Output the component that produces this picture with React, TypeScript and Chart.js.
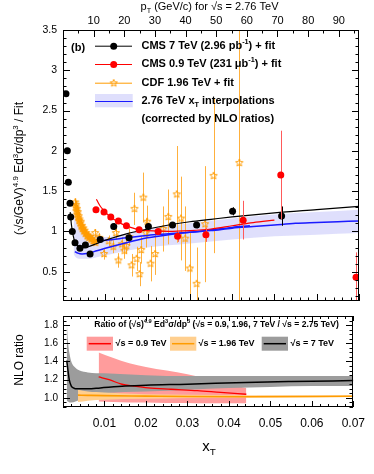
import React, { useEffect, useRef } from 'react';
import { Chart, registerables } from 'chart.js';
Chart.register(...registerables);

const FONT = "'Liberation Sans', Arial, Helvetica, sans-serif";

// ---------- upper panel data (xT, ratio to fit) ----------
const cms7X = [0.0007, 0.00102, 0.00126, 0.00166, 0.00182, 0.0022, 0.00284, 0.0040, 0.0053, 0.0064, 0.0088, 0.0120, 0.0156, 0.0202, 0.0259, 0.0316, 0.0401, 0.0517];
const cms7Y = [2.71, 2.00, 1.61, 1.35, 1.18, 1.00, 0.86, 0.79, 0.83, 0.72, 0.90, 1.06, 0.92, 1.06, 1.08, 1.08, 1.25, 1.19];
const cms7Err = [0.02, 0.02, 0.02, 0.02, 0.02, 0.02, 0.02, 0.02, 0.02, 0.02, 0.02, 0.04, 0.03, 0.04, 0.03, 0.04, 0.05, 0.12];

const cms09X = [0.0078, 0.0097, 0.0113, 0.0131, 0.0150, 0.0180, 0.0225, 0.0271, 0.0338, 0.0426, 0.0515, 0.0693];
const cms09Y = [1.27, 1.24, 1.18, 1.13, 1.07, 1.02, 1.00, 0.94, 0.96, 1.14, 1.70, 0.43];
const cms09Err = [0.02, 0.02, 0.02, 0.02, 0.03, 0.03, 0.04, 0.07, 0.09, 0.24, 0.55, 0.31];

const cdfDenseX = [0.0029, 0.0030, 0.0031, 0.0032, 0.0033, 0.0034, 0.0035, 0.0036, 0.0037, 0.0038, 0.0039, 0.0041, 0.0042, 0.0043, 0.0045, 0.0046, 0.0048, 0.0049, 0.0051, 0.0053, 0.0055, 0.0057, 0.0059, 0.0061, 0.0063, 0.0066, 0.0068, 0.0071, 0.0074, 0.0077];
const cdfDenseY = [1.36, 1.30, 1.33, 1.25, 1.28, 1.21, 1.24, 1.17, 1.19, 1.13, 1.15, 1.10, 1.12, 1.06, 1.07, 1.03, 1.04, 1.00, 1.01, 0.97, 0.98, 0.94, 0.95, 0.92, 0.93, 0.90, 0.91, 0.88, 0.88, 0.86];
const cdfDenseErr = [0.05, 0.06, 0.05, 0.06, 0.05, 0.05, 0.05, 0.05, 0.05, 0.05, 0.04, 0.04, 0.04, 0.04, 0.04, 0.04, 0.04, 0.03, 0.03, 0.03, 0.03, 0.03, 0.03, 0.03, 0.03, 0.03, 0.03, 0.03, 0.03, 0.03];

const cdfX = [0.0076, 0.0086, 0.0097, 0.0108, 0.0119, 0.0125, 0.0131, 0.0139, 0.0145, 0.0150, 0.0157, 0.0162, 0.0169, 0.0174, 0.0181, 0.0185, 0.0190, 0.0196, 0.0199, 0.0207, 0.0218, 0.0237, 0.0249, 0.0269, 0.0279, 0.0289, 0.0300, 0.0316, 0.0336, 0.0356, 0.0417];
const cdfY = [0.98, 0.92, 0.72, 0.88, 0.81, 0.98, 0.64, 0.84, 0.76, 0.82, 0.93, 0.58, 1.28, 0.66, 0.47, 0.77, 1.42, 0.98, 1.12, 0.60, 0.72, 1.03, 1.18, 1.46, 1.16, 0.91, 0.54, 0.35, 1.09, 1.69, 1.85];
const cdfErr = [0.05, 0.06, 0.07, 0.07, 0.08, 0.08, 0.09, 0.09, 0.10, 0.10, 0.11, 0.14, 0.20, 0.15, 0.15, 0.17, 0.31, 0.18, 0.20, 0.22, 0.26, 0.28, 0.34, 0.60, 0.52, 0.40, 0.45, 0.45, 0.72, 0.96, 1.90];

const cdfFitX = [0.0029, 0.0034, 0.0039, 0.0045, 0.0052, 0.0060, 0.0069, 0.0078];
const cdfFitY = [1.34, 1.22, 1.12, 1.04, 0.97, 0.92, 0.89, 0.87];

const cms7FitX = [0.0017, 0.0020, 0.0024, 0.0028, 0.0035, 0.0042, 0.0050, 0.0060, 0.0080, 0.0100, 0.0150, 0.0200, 0.0250, 0.0300, 0.0350, 0.0400, 0.0500, 0.0600, 0.0700];
const cms7FitY = [1.24, 1.08, 0.95, 0.87, 0.82, 0.80, 0.80, 0.81, 0.85, 0.89, 0.97, 1.03, 1.08, 1.12, 1.15, 1.18, 1.23, 1.27, 1.31];

const cms09FitX = [0.0079, 0.0085, 0.0090, 0.0100, 0.0110, 0.0120, 0.0140, 0.0160, 0.0180, 0.0200, 0.0250, 0.0300, 0.0350, 0.0400, 0.0450, 0.0500];
const cms09FitY = [1.40, 1.34, 1.30, 1.24, 1.19, 1.15, 1.09, 1.05, 1.02, 1.01, 1.00, 1.01, 1.03, 1.07, 1.11, 1.14];

const interpAX = [0.0028, 0.0035, 0.0045, 0.0060, 0.0080, 0.0100, 0.0150, 0.0200, 0.0250, 0.0300, 0.0350, 0.0400, 0.0450, 0.0500, 0.0550, 0.0600, 0.0650, 0.0700];
const interpAY = [0.75, 0.73, 0.72, 0.73, 0.76, 0.79, 0.86, 0.92, 0.96, 0.99, 1.01, 1.04, 1.06, 1.08, 1.10, 1.11, 1.12, 1.13];
const interpBX = [0.0086, 0.0100, 0.0150, 0.0200, 0.0250, 0.0300, 0.0350, 0.0400, 0.0442];
const interpBY = [0.88, 0.89, 0.92, 0.95, 0.97, 0.99, 1.02, 1.05, 1.07];

const bandX = [0.0025, 0.0030, 0.0040, 0.0060, 0.0080, 0.0100, 0.0150, 0.0200, 0.0300, 0.0400, 0.0500, 0.0600, 0.0700];
const bandHi = [1.25, 1.15, 1.04, 0.98, 0.94, 0.93, 0.97, 1.03, 1.10, 1.16, 1.21, 1.24, 1.27];
const bandLo = [0.72, 0.68, 0.66, 0.66, 0.68, 0.70, 0.76, 0.80, 0.85, 0.90, 0.94, 0.96, 0.98];

// ---------- lower panel data (NLO ratios) ----------
const r7X = [0.0009, 0.0012, 0.0016, 0.0020, 0.0030, 0.0040, 0.0060, 0.0100, 0.0200, 0.0300, 0.0400, 0.0500, 0.0600, 0.0700];
const r7Hi = [1.85, 1.62, 1.48, 1.40, 1.33, 1.30, 1.28, 1.27, 1.25, 1.24, 1.24, 1.24, 1.24, 1.24];
const r7Lo = [0.97, 0.96, 0.95, 0.95, 0.96, 0.98, 1.02, 1.05, 1.07, 1.09, 1.11, 1.12, 1.13, 1.13];
const r7LineX = [0.0009, 0.0012, 0.0015, 0.0020, 0.0025, 0.0030, 0.0036, 0.0060, 0.0090, 0.0150, 0.0200, 0.0300, 0.0440, 0.0550, 0.0700];
const r7LineY = [1.41, 1.30, 1.20, 1.13, 1.11, 1.10, 1.10, 1.10, 1.11, 1.13, 1.14, 1.15, 1.17, 1.18, 1.19];

const r09X = [0.0086, 0.0120, 0.0160, 0.0200, 0.0250, 0.0300, 0.0350, 0.0400, 0.0442];
const r09Hi = [1.50, 1.44, 1.38, 1.34, 1.30, 1.26, 1.21, 1.15, 1.11];
const r09Lo = [0.96, 0.955, 0.95, 0.95, 0.945, 0.945, 0.94, 0.94, 0.94];
const r09LineX = [0.0086, 0.0111, 0.0142, 0.0170, 0.0205, 0.0260, 0.0324, 0.0380, 0.0442];
const r09LineY = [1.23, 1.20, 1.15, 1.13, 1.11, 1.095, 1.08, 1.06, 1.04];

const r196X = [0.0036, 0.0060, 0.0100, 0.0200, 0.0300, 0.0450, 0.0700];
const r196Hi = [1.09, 1.07, 1.06, 1.04, 1.035, 1.03, 1.03];
const r196Lo = [0.955, 0.97, 0.98, 0.99, 1.00, 1.005, 1.01];
const r196LineY = [1.03, 1.028, 1.025, 1.02, 1.015, 1.013, 1.018];

// tick label values
const xTicks = [0.01, 0.02, 0.03, 0.04, 0.05, 0.06, 0.07];
const ptTicks = [10, 20, 30, 40, 50, 60, 70, 80, 90];
const yTopTicks = [0.5, 1, 1.5, 2, 2.5, 3, 3.5];
const yBotTicks = [1.0, 1.2, 1.4, 1.6, 1.8];

const pts = (xs: number[], ys: number[]) => xs.map((x, i) => ({ x, y: ys[i] }));

type Seg = { t: string; v?: 'sup' | 'sub' };

function segFont(size: number, bold: boolean, s: Seg) {
  const sz = s.v ? size * 0.66 : size;
  return `${bold ? 'bold ' : ''}${sz}px ${FONT}`;
}
function richWidth(ctx: CanvasRenderingContext2D, segs: Seg[], size: number, bold: boolean) {
  let w = 0;
  for (const s of segs) { ctx.font = segFont(size, bold, s); w += ctx.measureText(s.t).width; }
  return w;
}
function drawRich(ctx: CanvasRenderingContext2D, segs: Seg[], x: number, y: number, size: number, bold: boolean, align: 'left' | 'center') {
  ctx.save();
  const w = richWidth(ctx, segs, size, bold);
  let cx = align === 'center' ? x - w / 2 : x;
  ctx.textBaseline = 'middle';
  ctx.textAlign = 'left';
  ctx.fillStyle = '#000';
  for (const s of segs) {
    ctx.font = segFont(size, bold, s);
    const dy = s.v === 'sup' ? -size * 0.38 : s.v === 'sub' ? size * 0.32 : 0;
    ctx.fillText(s.t, cx, y + dy);
    cx += ctx.measureText(s.t).width;
  }
  ctx.restore();
}

function makeStar(color: string, r: number) {
  const size = Math.ceil(r * 2 + 2);
  const c = document.createElement('canvas');
  c.width = size; c.height = size;
  const g = c.getContext('2d')!;
  g.strokeStyle = color; g.lineWidth = 1;
  g.beginPath();
  for (let i = 0; i < 10; i++) {
    const ang = -Math.PI / 2 + (i * Math.PI) / 5;
    const rr = i % 2 === 0 ? r : r * 0.45;
    const px = size / 2 + rr * Math.cos(ang);
    const py = size / 2 + rr * Math.sin(ang);
    if (i === 0) g.moveTo(px, py); else g.lineTo(px, py);
  }
  g.closePath(); g.stroke();
  return c;
}

type ErrSpec = { errs: number[]; color: string };
function makeErrorBars(specs: Record<number, ErrSpec>) {
  return {
    id: 'errorBars',
    beforeDatasetDraw(chart: any, args: any) {
      const spec = specs[args.index];
      if (!spec) return;
      const ds = chart.data.datasets[args.index];
      const xScale = chart.scales.x, yScale = chart.scales.y;
      const ctx: CanvasRenderingContext2D = chart.ctx; const a = chart.chartArea;
      ctx.save();
      ctx.beginPath(); ctx.rect(a.left, a.top, a.right - a.left, a.bottom - a.top); ctx.clip();
      ctx.globalAlpha = 1;
      ctx.setLineDash([]);
      ctx.lineWidth = 1;
      ctx.strokeStyle = spec.color;
      ds.data.forEach((p: any, i: number) => {
        const e = spec.errs[i];
        const px = Math.round(xScale.getPixelForValue(p.x)) + 0.5;
        ctx.beginPath();
        ctx.moveTo(px, yScale.getPixelForValue(p.y - e));
        ctx.lineTo(px, yScale.getPixelForValue(p.y + e));
        ctx.strokeStyle = spec.color;
        ctx.stroke();
      });
      ctx.restore();
    },
  };
}

type TickSpec = { scale: string; edge: 'top' | 'bottom' | 'left' | 'right'; major: number; minor: number; lmaj: number; lmin: number };
function makeFrame(specs: TickSpec[]) {
  return {
    id: 'frame',
    afterDatasetsDraw(chart: any) {
      const ctx = chart.ctx; const a = chart.chartArea;
      const L = Math.round(a.left), R = Math.round(a.right), T = Math.round(a.top), B = Math.round(a.bottom);
      ctx.save();
      ctx.strokeStyle = '#000'; ctx.lineWidth = 1;
      ctx.strokeRect(L + 0.5, T + 0.5, R - L - 1, B - T - 1);
      for (const s of specs) {
        const sc = chart.scales[s.scale];
        const lo = Math.min(sc.min, sc.max), hi = Math.max(sc.min, sc.max);
        const start = Math.ceil(lo / s.minor - 1e-6);
        for (let k = start; k * s.minor <= hi + 1e-9; k++) {
          const v = k * s.minor;
          const isMaj = Math.abs(v / s.major - Math.round(v / s.major)) < 1e-6;
          const len = isMaj ? s.lmaj : s.lmin;
          const p = Math.round(sc.getPixelForValue(v)) + 0.5;
          ctx.beginPath();
          if (s.edge === 'bottom') { ctx.moveTo(p, B); ctx.lineTo(p, B - len); }
          if (s.edge === 'top') { ctx.moveTo(p, T); ctx.lineTo(p, T + len); }
          if (s.edge === 'left') { ctx.moveTo(L, p); ctx.lineTo(L + len, p); }
          if (s.edge === 'right') { ctx.moveTo(R, p); ctx.lineTo(R - len, p); }
          ctx.stroke();
        }
      }
      ctx.restore();
    },
  };
}

const ORANGE = '#ff9c00';
const BLUE = '#1a1aff';
const BANDBLUE = 'rgba(150,150,245,0.3)';
const NOGRID = { display: false, drawTicks: false, tickLength: 0 };

export default function App() {
  const topRef = useRef<HTMLCanvasElement>(null);
  const botRef = useRef<HTMLCanvasElement>(null);

  useEffect(() => {
    const star = makeStar(ORANGE, 3.8);
    const line = (data: any, color: string, w: number, order: number, extra: any = {}) => ({
      data, borderColor: color, borderWidth: w, pointRadius: 0, fill: false, order,
      cubicInterpolationMode: 'monotone', ...extra,
    });
    const band = (data: any, order: number, fill: any = false, bg = 'transparent') => ({
      data, borderWidth: 0, borderColor: 'transparent', pointRadius: 0, fill, backgroundColor: bg, order,
      cubicInterpolationMode: 'monotone',
    });

    const decorTop = {
      id: 'decorTop',
      afterDraw(chart: any) {
        const ctx: CanvasRenderingContext2D = chart.ctx;
        drawRich(ctx, [{ t: 'p' }, { t: 'T', v: 'sub' }, { t: ' (GeV/c) for √s = 2.76 TeV' }], 209.5, 7, 11, false, 'center');
        ctx.save(); ctx.translate(20, 168.5); ctx.rotate(-Math.PI / 2);
        drawRich(ctx, [{ t: '(√s/GeV)' }, { t: '4.9', v: 'sup' }, { t: ' Ed' }, { t: '3', v: 'sup' }, { t: 'σ/dp' }, { t: '3', v: 'sup' }, { t: ' / Fit' }], 0, 0, 12, false, 'center');
        ctx.restore();
        drawRich(ctx, [{ t: '(b)' }], 71, 48, 11, true, 'left');
        const rows = [45.7, 64, 82.7, 101, 119.3];
        const tx = 141.5;
        ctx.save();
        ctx.strokeStyle = '#000'; ctx.lineWidth = 1;
        ctx.beginPath(); ctx.moveTo(95, rows[0] + 0.5); ctx.lineTo(132, rows[0] + 0.5); ctx.stroke();
        ctx.fillStyle = '#000'; ctx.beginPath(); ctx.arc(113.7, rows[0] + 0.5, 3.5, 0, Math.PI * 2); ctx.fill();
        ctx.strokeStyle = '#ff0000';
        ctx.beginPath(); ctx.moveTo(95, rows[1] + 0.5); ctx.lineTo(132, rows[1] + 0.5); ctx.stroke();
        ctx.fillStyle = '#ff0000'; ctx.beginPath(); ctx.arc(113.7, rows[1] + 0.5, 3.5, 0, Math.PI * 2); ctx.fill();
        ctx.strokeStyle = ORANGE;
        ctx.beginPath(); ctx.moveTo(95, rows[2] + 0.5); ctx.lineTo(132, rows[2] + 0.5); ctx.stroke();
        ctx.drawImage(star, 113.7 - star.width / 2, rows[2] + 0.5 - star.height / 2);
        ctx.fillStyle = BANDBLUE; ctx.fillRect(95, 94, 37.7, 13.3);
        ctx.strokeStyle = BLUE;
        ctx.beginPath(); ctx.moveTo(95, rows[3] + 0.5); ctx.lineTo(132.7, rows[3] + 0.5); ctx.stroke();
        ctx.restore();
        drawRich(ctx, [{ t: 'CMS 7 TeV (2.96 pb' }, { t: '-1', v: 'sup' }, { t: ') + fit' }], tx, rows[0], 11, true, 'left');
        drawRich(ctx, [{ t: 'CMS 0.9 TeV (231 μb' }, { t: '-1', v: 'sup' }, { t: ') + fit' }], tx, rows[1], 11, true, 'left');
        drawRich(ctx, [{ t: 'CDF 1.96 TeV + fit' }], tx, rows[2], 11, true, 'left');
        drawRich(ctx, [{ t: '2.76 TeV x' }, { t: 'T', v: 'sub' }, { t: ' interpolations' }], tx, rows[3], 11, true, 'left');
        drawRich(ctx, [{ t: '(corrected by NLO ratios)' }], tx, rows[4], 11, true, 'left');
      },
    };

    const decorBot = {
      id: 'decorBot',
      afterDraw(chart: any) {
        const ctx: CanvasRenderingContext2D = chart.ctx;
        drawRich(ctx, [{ t: 'Ratio of (√s)' }, { t: '4.9', v: 'sup' }, { t: ' Ed' }, { t: '3', v: 'sup' }, { t: 'σ/dp' }, { t: '3', v: 'sup' }, { t: ' (√s = 0.9, 1.96, 7 TeV / √s = 2.75 TeV)' }], 216.5, 20, 8.6, true, 'center');
        const by = 31.7, bh = 14, my = 38.7;
        const boxes = [
          { x: 86.7, fill: '#ff9c9c', line: '#ff0000', label: '√s = 0.9 TeV', tx: 115.5 },
          { x: 170, fill: '#ffcf8f', line: ORANGE, label: '√s = 1.96 TeV', tx: 198.5 },
          { x: 261.7, fill: '#9c9c9c', line: '#000', label: '√s = 7 TeV', tx: 290.5 },
        ];
        ctx.save();
        for (const b of boxes) {
          ctx.fillStyle = b.fill; ctx.fillRect(b.x, by, 26.3, bh);
          ctx.strokeStyle = b.line; ctx.lineWidth = 1.5;
          ctx.beginPath(); ctx.moveTo(b.x + 2, my); ctx.lineTo(b.x + 24.3, my); ctx.stroke();
        }
        ctx.restore();
        for (const b of boxes) drawRich(ctx, [{ t: b.label }], b.tx, my, 9, true, 'left');
        ctx.save(); ctx.translate(20, 55); ctx.rotate(-Math.PI / 2);
        drawRich(ctx, [{ t: 'NLO ratio' }], 0, 0, 12, false, 'center');
        ctx.restore();
        drawRich(ctx, [{ t: 'x' }, { t: 'T', v: 'sub' }], 209, 142, 15, false, 'center');
      },
    };

    const tickFont = (size: number) => ({ family: FONT, size });

    const top = new Chart(topRef.current!, {
      type: 'line',
      data: {
        datasets: [
          band(pts(bandX, bandLo), 20) as any,
          band(pts(bandX, bandHi), 20, '-1', BANDBLUE) as any,
          { data: pts(cdfDenseX, cdfDenseY), showLine: false, pointStyle: star, pointRadius: 3.8, borderColor: ORANGE, backgroundColor: ORANGE, order: 15 } as any,
          { data: pts(cdfX, cdfY), showLine: false, pointStyle: star, pointRadius: 3.8, borderColor: ORANGE, backgroundColor: ORANGE, order: 15 } as any,
          line(pts(cdfFitX, cdfFitY), ORANGE, 2.5, 14) as any,
          line(pts(interpAX, interpAY), BLUE, 1.5, 10) as any,
          line(pts(interpBX, interpBY), BLUE, 1.5, 10) as any,
          line(pts(cms7FitX, cms7FitY), '#000', 1.2, 9) as any,
          line(pts(cms09FitX, cms09FitY), '#ff0000', 1.2, 9) as any,
          { data: pts(cms7X, cms7Y), showLine: false, pointStyle: 'circle', pointRadius: 3.5, pointBorderWidth: 0, backgroundColor: '#000', borderColor: '#000', order: 2 } as any,
          { data: pts(cms09X, cms09Y), showLine: false, pointStyle: 'circle', pointRadius: 3.5, pointBorderWidth: 0, backgroundColor: '#ff0000', borderColor: '#ff0000', order: 1 } as any,
        ],
      },
      options: {
        responsive: false,
        animation: false,
        events: [],
        layout: { padding: { left: 0, right: 15, top: 0, bottom: 1 } },
        plugins: { legend: { display: false }, tooltip: { enabled: false } },
        scales: {
          x: { type: 'linear', min: 0, max: 0.07, display: false },
          xTop: {
            type: 'linear', position: 'top', min: 0, max: 96.6,
            grid: NOGRID, border: { display: false },
            afterBuildTicks: (s: any) => { s.ticks = ptTicks.map((v) => ({ value: v })); },
            afterFit: (s: any) => { s.height = 30; },
            ticks: { autoSkip: false, maxRotation: 0, padding: 2, color: '#000', font: tickFont(11), callback: (v: any) => String(v) },
          },
          y: {
            type: 'linear', min: 0.14, max: 3.5,
            grid: NOGRID, border: { display: false },
            afterBuildTicks: (s: any) => { s.ticks = yTopTicks.map((v) => ({ value: v })); },
            afterFit: (s: any) => { s.width = 63; },
            ticks: { autoSkip: false, padding: 6, color: '#000', font: tickFont(10.5), callback: (v: any) => String(v) },
          },
        },
      } as any,
      plugins: [makeErrorBars({
        2: { errs: cdfDenseErr, color: 'rgb(255,150,0)' },
        3: { errs: cdfErr, color: 'rgb(255,176,60)' },
        9: { errs: cms7Err, color: 'rgb(0,0,0)' },
        10: { errs: cms09Err, color: 'rgb(255,90,90)' },
      }), makeFrame([
        { scale: 'x', edge: 'bottom', major: 0.01, minor: 0.002, lmaj: 7, lmin: 3.5 },
        { scale: 'xTop', edge: 'top', major: 10, minor: 5, lmaj: 7, lmin: 3.5 },
        { scale: 'y', edge: 'left', major: 0.5, minor: 0.1, lmaj: 7, lmin: 3.5 },
        { scale: 'y', edge: 'right', major: 0.5, minor: 0.1, lmaj: 7, lmin: 3.5 },
      ]), decorTop] as any,
    });

    const bot = new Chart(botRef.current!, {
      type: 'line',
      data: {
        datasets: [
          band(pts(r09X, r09Lo), 30) as any,
          band(pts(r09X, r09Hi), 30, '-1', '#ff9c9c') as any,
          band(pts(r7X, r7Lo), 25) as any,
          band(pts(r7X, r7Hi), 25, '-1', '#9c9c9c') as any,
          band(pts(r196X, r196Lo), 20) as any,
          band(pts(r196X, r196Hi), 20, '-1', '#ffcf8f') as any,
          line(pts(r09LineX, r09LineY), '#ff0000', 1.3, 5) as any,
          line(pts(r196X, r196LineY), ORANGE, 1.6, 5) as any,
          line(pts(r7LineX, r7LineY), '#000', 1.5, 4) as any,
        ],
      },
      options: {
        responsive: false,
        animation: false,
        events: [],
        layout: { padding: { left: 0, right: 15, top: 7, bottom: 0 } },
        plugins: { legend: { display: false }, tooltip: { enabled: false } },
        scales: {
          x: {
            type: 'linear', min: 0, max: 0.07,
            grid: NOGRID, border: { display: false },
            afterBuildTicks: (s: any) => { s.ticks = xTicks.map((v) => ({ value: v })); },
            afterFit: (s: any) => { s.height = 67; },
            ticks: { autoSkip: false, maxRotation: 0, padding: 9, color: '#000', font: tickFont(12), callback: (v: any) => Number(v).toFixed(2) },
          },
          y: {
            type: 'linear', min: 0.9, max: 1.9,
            grid: NOGRID, border: { display: false },
            afterBuildTicks: (s: any) => { s.ticks = yBotTicks.map((v) => ({ value: v })); },
            afterFit: (s: any) => { s.width = 63; },
            ticks: { autoSkip: false, padding: 5, color: '#000', font: tickFont(10), callback: (v: any) => Number(v).toFixed(1) },
          },
        },
      } as any,
      plugins: [makeFrame([
        { scale: 'x', edge: 'bottom', major: 0.01, minor: 0.002, lmaj: 6, lmin: 3 },
        { scale: 'x', edge: 'top', major: 0.01, minor: 0.002, lmaj: 5, lmin: 3 },
        { scale: 'y', edge: 'left', major: 0.2, minor: 0.05, lmaj: 7, lmin: 3.5 },
        { scale: 'y', edge: 'right', major: 0.2, minor: 0.05, lmaj: 7, lmin: 3.5 },
      ]), decorBot] as any,
    });

    return () => { top.destroy(); bot.destroy(); };
  }, []);

  return (
    <div style={{ position: 'absolute', left: 0, top: 0, width: 374, height: 474, background: '#fff', overflow: 'hidden' }}>
      <canvas ref={botRef} width={374} height={169} style={{ position: 'absolute', left: 0, top: 305, display: 'block' }} />
      <canvas ref={topRef} width={374} height={313} style={{ position: 'absolute', left: 0, top: 0, display: 'block' }} />
    </div>
  );
}
